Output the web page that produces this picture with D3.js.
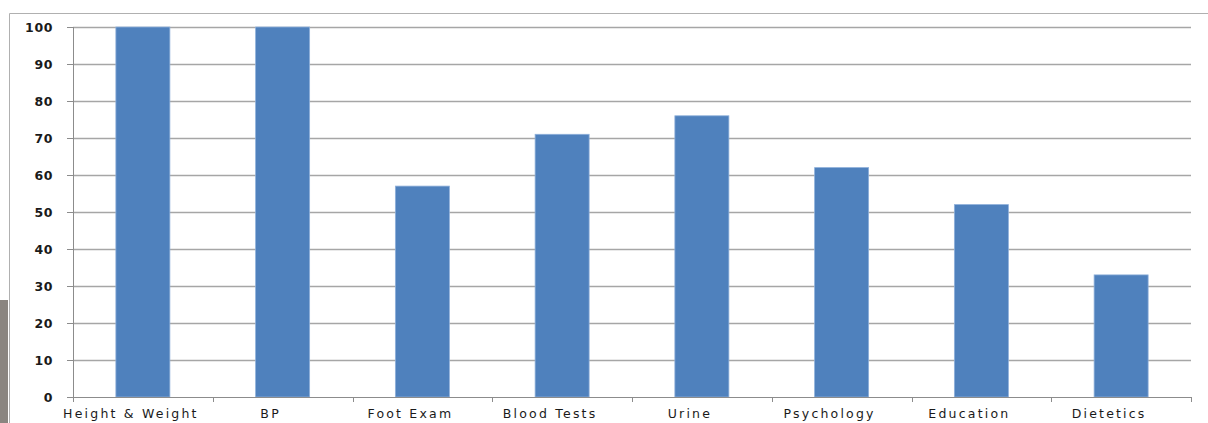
<!DOCTYPE html>
<meta charset="utf-8">
<script src="https://d3js.org/d3.v7.min.js"></script>
<style>
  body { margin: 0; background: #fff; }
  text { font-family: "DejaVu Sans", sans-serif; fill: #1a1a1a; }
</style>
<div id="my_dataviz"></div>
<script>

// categories and values
var categories = ["Height & Weight", "BP", "Foot Exam", "Blood Tests", "Urine", "Psychology", "Education", "Dietetics"];
var values = [100, 100, 57, 71, 76, 62, 52, 33];
var yTicks = [0, 10, 20, 30, 40, 50, 60, 70, 80, 90, 100];

var W = 1208, H = 423;
var margin = {top: 27, right: 17, bottom: 26, left: 73},
    width = W - margin.left - margin.right,
    height = H - margin.top - margin.bottom;

var root = d3.select("#my_dataviz")
  .append("svg")
    .attr("width", W)
    .attr("height", H);

// outer frame of the chart object
root.append("path")
  .attr("d", "M9.5," + H + "V13.5H" + W)
  .attr("fill", "none")
  .attr("stroke", "#b0b0b0");

// bit of photo at the left edge
root.append("rect")
  .attr("x", 0).attr("y", 300).attr("width", 8).attr("height", 123)
  .attr("fill", "#8a8580");

var svg = root.append("g")
  .attr("transform", "translate(" + margin.left + "," + margin.top + ")");

var xb = d3.scaleBand().range([0, width]).domain(categories);

var y = d3.scaleLinear()
  .domain([0, 100])
  .range([height, 0]);

// gridlines
svg.append("g")
  .selectAll("line")
  .data(yTicks.filter(function(d) { return d > 0; }))
  .enter()
  .append("line")
    .attr("x1", 0)
    .attr("x2", width)
    .attr("y1", function(d) { return Math.round(y(d)) + 0.5; })
    .attr("y2", function(d) { return Math.round(y(d)) + 0.5; })
    .attr("stroke", "#a6a6a6")
    .attr("stroke-width", 1.3);

// bars
var barW = 54;
svg.selectAll("rect.bar")
  .data(values)
  .enter()
  .append("rect")
    .attr("class", "bar")
    .attr("x", function(d, i) { return xb(categories[i]) + (xb.bandwidth() - barW) / 2; })
    .attr("y", function(d) { return y(d); })
    .attr("width", barW)
    .attr("height", function(d) { return height - y(d); })
    .attr("fill", "#4f81bd")
    .attr("stroke", "#8eb0da")
    .attr("stroke-width", 0.8);

// Y axis
var yAxis = svg.append("g")
  .call(d3.axisLeft(y).tickValues(yTicks).tickSize(6).tickPadding(14).tickFormat(d3.format("d")));
yAxis.select(".domain").attr("stroke", "#8c8c8c").attr("d", "M0.5,0V" + height);
yAxis.selectAll(".tick line").attr("stroke", "#8c8c8c");
yAxis.selectAll("text")
  .style("font-size", "12.5px")
  .style("font-weight", "bold")
  .style("letter-spacing", "0.6px")
  .attr("fill", "#1a1a1a");

// X axis with ticks at category boundaries
var xAxis = svg.append("g")
  .attr("transform", "translate(0," + height + ")");
xAxis.append("line")
  .attr("x1", 0).attr("x2", width).attr("y1", 0.5).attr("y2", 0.5)
  .attr("stroke", "#8c8c8c");
xAxis.selectAll("line.bt")
  .data(categories.concat([""]))
  .enter()
  .append("line")
    .attr("class", "bt")
    .attr("x1", function(d, i) { return Math.round(i * xb.step()) + 0.5; })
    .attr("x2", function(d, i) { return Math.round(i * xb.step()) + 0.5; })
    .attr("y1", 0)
    .attr("y2", 5)
    .attr("stroke", "#8c8c8c");
xAxis.selectAll("text")
  .data(categories)
  .enter()
  .append("text")
    .attr("x", function(d) { return xb(d) + xb.bandwidth() / 2 - 12; })
    .attr("y", 21)
    .attr("text-anchor", "middle")
    .style("font-size", "12.5px")
    .style("letter-spacing", "2.2px")
    .text(function(d) { return d; });

</script>
